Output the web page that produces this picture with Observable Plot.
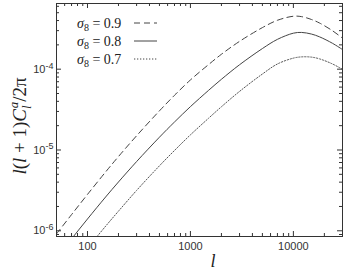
<!DOCTYPE html>
<html><head><meta charset="utf-8">
<script src="https://cdn.jsdelivr.net/npm/d3@7"></script>
<script src="https://cdn.jsdelivr.net/npm/@observablehq/plot@0.6"></script>
<style>body{margin:0;background:#fff} svg{display:block}</style>
</head><body><div id="chart"></div>
<script>
// multipole l and l(l+1)C_l^a/2pi for each sigma_8
const ell09 = [50, 70, 100, 150, 200, 300, 500, 700, 1000, 1500, 2000, 3000, 5000, 7000, 10000, 12000, 15000, 18000, 24000, 30000];
const sigma09 = [9.16e-7, 1.585e-6, 2.82e-6, 5.35e-6, 8.3e-6, 1.5e-5, 3.05e-5, 4.75e-5, 7.36e-5, 1.14e-4, 1.53e-4, 2.21e-4, 3.27e-4, 4.03e-4, 4.52e-4, 4.47e-4, 4.12e-4, 3.72e-4, 2.99e-4, 2.42e-4];
const ell08 = [50, 70, 100, 150, 200, 300, 500, 700, 1000, 1500, 2000, 3000, 5000, 7000, 10000, 12000, 15000, 18000, 24000, 30000];
const sigma08 = [4.59e-7, 7.94e-7, 1.4e-6, 2.62e-6, 4.02e-6, 7.19e-6, 1.44e-5, 2.22e-5, 3.44e-5, 5.47e-5, 7.5e-5, 1.135e-4, 1.8e-4, 2.34e-4, 2.79e-4, 2.85e-4, 2.72e-4, 2.51e-4, 2.09e-4, 1.75e-4];
const ell07 = [100, 150, 200, 300, 500, 700, 1000, 1500, 2000, 3000, 5000, 7000, 10000, 12000, 15000, 18000, 24000, 30000];
const sigma07 = [6.1e-7, 1.14e-6, 1.75e-6, 3.16e-6, 6.37e-6, 9.86e-6, 1.54e-5, 2.47e-5, 3.43e-5, 5.31e-5, 8.71e-5, 1.16e-4, 1.37e-4, 1.42e-4, 1.41e-4, 1.34e-4, 1.16e-4, 9.95e-5];
const legendLabels = ["0.9", "0.8", "0.7"];
const xMajor = [100, 1000, 10000];
const xMinor = [50, 60, 70, 80, 90, 200, 300, 400, 500, 600, 700, 800, 900, 2000, 3000, 4000, 5000, 6000, 7000, 8000, 9000, 20000, 30000];
const yMajor = [1e-6, 1e-5, 1e-4];
const yMinor = [9e-7, 2e-6, 3e-6, 4e-6, 5e-6, 6e-6, 7e-6, 8e-6, 9e-6, 2e-5, 3e-5, 4e-5, 5e-5, 6e-5, 7e-5, 8e-5, 9e-5, 2e-4, 3e-4, 4e-4, 5e-4, 6e-4];

const W = 346, H = 273, mt = 3, mb = 37, ml = 56, mr = 4;
const fh = H - mt - mb, fw = W - ml - mr;
const toRows = (ls, vs) => ls.map((l, i) => ({l, v: vs[i]}));
const ink = "#333";

const plot = Plot.plot({
  width: W, height: H,
  marginTop: mt, marginBottom: mb, marginLeft: ml, marginRight: mr,
  style: {fontFamily: "'Liberation Sans', Arial, sans-serif", fontSize: "11px", color: ink, background: "#fff"},
  x: {type: "log", domain: [50, 30000]},
  y: {type: "log", domain: [8.5e-7, 6.5e-4]},
  marks: [
    Plot.line(toRows(ell09, sigma09), {x: "l", y: "v", stroke: "#444", strokeWidth: 1, strokeDasharray: "6,4", curve: "catmull-rom", clip: true}),
    Plot.line(toRows(ell08, sigma08), {x: "l", y: "v", stroke: "#444", strokeWidth: 1, curve: "catmull-rom", clip: true}),
    Plot.line(toRows(ell07, sigma07), {x: "l", y: "v", stroke: "#555", strokeWidth: 1, strokeDasharray: "1.3,1.7", curve: "catmull-rom", clip: true}),
    Plot.tickX(xMajor, {x: d => d, insetTop: fh - 5, stroke: ink}),
    Plot.tickX(xMajor, {x: d => d, insetBottom: fh - 5, stroke: ink}),
    Plot.tickX(xMinor, {x: d => d, insetTop: fh - 3, stroke: ink}),
    Plot.tickX(xMinor, {x: d => d, insetBottom: fh - 3, stroke: ink}),
    Plot.tickY(yMajor, {y: d => d, insetRight: fw - 5, stroke: ink}),
    Plot.tickY(yMajor, {y: d => d, insetLeft: fw - 5, stroke: ink}),
    Plot.tickY(yMinor, {y: d => d, insetRight: fw - 3, stroke: ink}),
    Plot.tickY(yMinor, {y: d => d, insetLeft: fw - 3, stroke: ink}),
    Plot.axisX(xMajor, {anchor: "bottom", tickSize: 0, tickPadding: 6, tickFormat: d => String(d), label: null, fontSize: 11}),
    Plot.axisY(yMajor, {anchor: "left", tickSize: 0, tickPadding: 3, tickFormat: d => "10|" + Math.round(Math.log10(d)), label: null, fontSize: 11}),
    Plot.frame({stroke: ink, strokeWidth: 1})
  ]
});

const svg = d3.select(plot);
// superscript exponents on the y tick labels
svg.selectAll("g[aria-label='y-axis tick label'] text").each(function() {
  const t = d3.select(this);
  const [base, exp] = t.text().split("|");
  t.text(null);
  t.append("tspan").text(base);
  t.append("tspan").attr("font-size", 9).attr("dy", "-0.45em").text(exp);
});
// axis titles
svg.append("text").attr("x", 213).attr("y", 267).attr("text-anchor", "middle")
  .attr("font-family", "'Liberation Serif', serif").attr("font-style", "italic").attr("font-size", 18).attr("fill", "#222").text("l");
const yt = svg.append("text").attr("transform", "translate(26,126) rotate(-90)").attr("text-anchor", "middle")
  .attr("font-family", "'Liberation Serif', serif").attr("font-size", 19).attr("fill", "#222");
yt.append("tspan").attr("font-style", "italic").text("l");
yt.append("tspan").text("(");
yt.append("tspan").attr("font-style", "italic").text("l");
yt.append("tspan").text(" + 1)");
yt.append("tspan").attr("font-style", "italic").text("C");
yt.append("tspan").attr("font-style", "italic").attr("font-size", 13).attr("dy", 5).text("l");
yt.append("tspan").attr("font-style", "italic").attr("font-size", 13).attr("dy", -13).attr("dx", -3).text("a");
yt.append("tspan").attr("dy", 8).text("/2π");

// legend
const styles = [{dash: "6,4"}, {dash: null}, {dash: "1.3,1.7"}];
legendLabels.forEach((lab, i) => {
  const y = 23 + i * 18;
  const t = svg.append("text").attr("x", 77).attr("y", y).attr("dy", "0.35em").attr("text-anchor", "start")
    .attr("font-family", "'Liberation Serif', serif").attr("font-size", 14).attr("fill", "#222");
  t.append("tspan").attr("font-style", "italic").text("σ");
  t.append("tspan").attr("font-size", 10).attr("dy", 3).text("8");
  t.append("tspan").attr("dy", -3).text(" = " + lab);
  const ln = svg.append("line").attr("x1", 134).attr("x2", 157).attr("y1", y).attr("y2", y)
    .attr("stroke", "#444").attr("stroke-width", 1);
  if (styles[i].dash) ln.attr("stroke-dasharray", styles[i].dash);
});

document.getElementById("chart").appendChild(plot);
</script>
</body></html>
